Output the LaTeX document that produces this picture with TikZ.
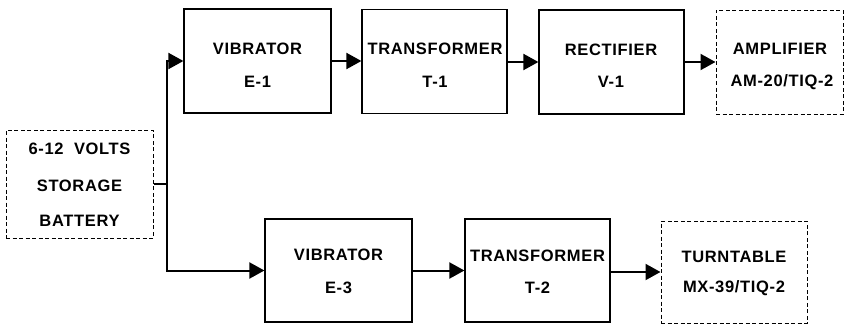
\documentclass[tikz,border=0pt]{standalone}
\usepackage{fontspec}
\setmainfont{Liberation Sans}
\usetikzlibrary{arrows.meta}
\begin{document}
\begin{tikzpicture}[x=1pt,y=-1pt,
  blk/.style={draw,line width=1.2pt,minimum width=#1,inner sep=0pt,minimum height=104pt},
  dblk/.style={blk=#1,line width=1pt,dash pattern=on 4pt off 2.5pt},
  lbl/.style={font=\fontsize{16.5}{17}\selectfont\bfseries\addfontfeatures{LetterSpace=4},inner sep=0pt},
  conn/.style={line width=2pt},
  arr/.style={conn,-{Triangle[length=15pt,width=16pt]}}]
\useasboundingbox (0,0) rectangle (847,324);
% boxes
\node[dblk=147pt,minimum height=108pt] (bat) at (79.5,184) {};
\node[blk=147pt] (v1) at (257.5,61) {};
\node[blk=145pt] (t1) at (434.5,61.5) {};
\node[blk=145pt] (r1) at (611.5,62) {};
\node[dblk=127pt] (amp) at (779.5,62) {};
\node[blk=147pt,minimum height=103pt] (v3) at (338.5,270.5) {};
\node[blk=145pt,minimum height=103pt] (t2) at (537.5,270.5) {};
\node[dblk=146pt,minimum height=102pt] (tt) at (734,272) {};
% labels
\node[lbl] (bat1) at (79.5,149) {6-12\ \ VOLTS};
\node[lbl] (bat2) at (79.5,186) {STORAGE};
\node[lbl] (bat3) at (79.5,221) {BATTERY};
\node[lbl] (v1a) at (257.5,49) {VIBRATOR};
\node[lbl] (v1b) at (257.5,82) {E-1};
\node[lbl] (t1a) at (435,49) {TRANSFORMER};
\node[lbl] (t1b) at (435,82) {T-1};
\node[lbl] (r1a) at (611,50) {RECTIFIER};
\node[lbl] (r1b) at (611,82) {V-1};
\node[lbl] (ampa) at (780,49) {AMPLIFIER};
\node[lbl] (ampb) at (782,82) {AM-20/TIQ-2};
\node[lbl] (v3a) at (338.5,255) {VIBRATOR};
\node[lbl] (v3b) at (338.5,288) {E-3};
\node[lbl] (t2a) at (537.5,256) {TRANSFORMER};
\node[lbl] (t2b) at (537.5,288) {T-2};
\node[lbl] (tta) at (734,257) {TURNTABLE};
\node[lbl] (ttb) at (734,288) {MX-39/TIQ-2};
% connectors
\coordinate (j) at (167,184);
\draw[conn] (bat.east |- j) -- (j);
\draw[arr] (j) |- (v1.west);
\draw[arr] (j) |- (v3.west);
\draw[arr] (v1.east) -- (v1.east -| t1.west);
\draw[arr] (t1.east |- r1) -- (r1.west);
\draw[arr] (r1.east) -- (r1.east -| amp.west);
\draw[arr] (v3.east) -- (v3.east -| t2.west);
\draw[arr] (t2.east |- tt) -- (tt.west);
\end{tikzpicture}
\end{document}
